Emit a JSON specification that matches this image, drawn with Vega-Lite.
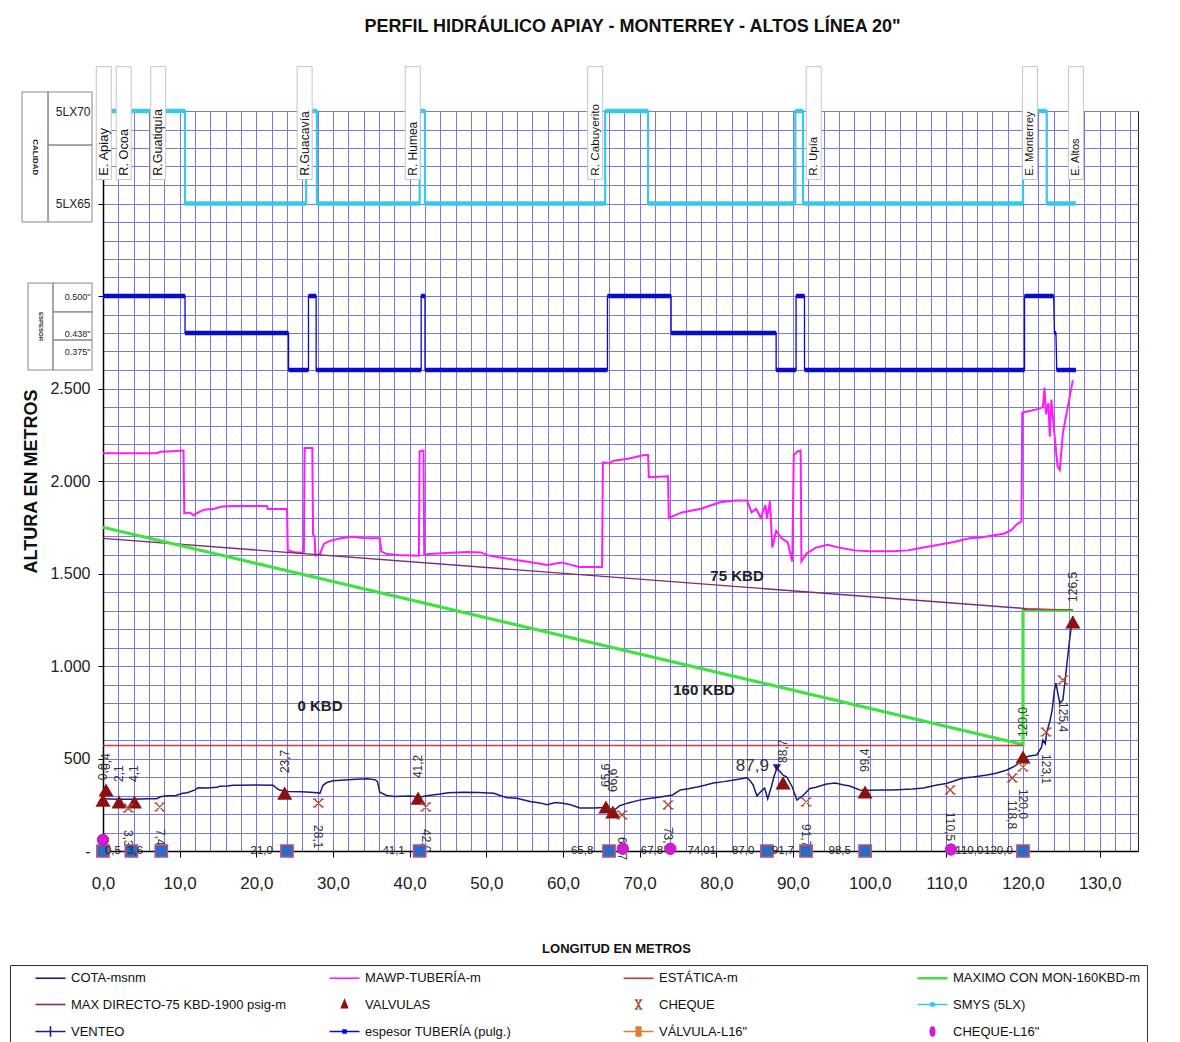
{
"$schema": "https://vega.github.io/schema/vega-lite/v6.json",
"width": 1035,
"height": 740,
"autosize": "none",
"padding": {"left": 103, "top": 111, "right": 42, "bottom": 191},
"background": "white",
"config": {"view": {"stroke": "#222", "strokeWidth": 1}, "font": "Liberation Sans", "text": {"font": "Liberation Sans"}, "axis": {"gridColor": "#7878de", "gridWidth": 1, "gridOpacity": 1}},
"title": {"text": "PERFIL HIDRÁULICO APIAY - MONTERREY - ALTOS LÍNEA 20\"", "font": "Liberation Sans", "fontSize": 18, "fontWeight": "bold", "color": "#111", "frame": "group", "anchor": "middle", "offset": 30, "dx": 12},
"datasets": {
"cota": [{"km":0,"m":282},{"km":2,"m":280},{"km":4,"m":280},{"km":6,"m":282},{"km":7,"m":283},{"km":7.4,"m":292},{"km":8,"m":297},{"km":9.5,"m":300},{"km":10.4,"m":312},{"km":11,"m":315},{"km":12,"m":330},{"km":12.4,"m":342},{"km":13.5,"m":340},{"km":14.9,"m":344},{"km":15.2,"m":350},{"km":16.2,"m":352},{"km":17,"m":355},{"km":18,"m":356},{"km":20,"m":357},{"km":22.2,"m":355},{"km":22.7,"m":338},{"km":23,"m":330},{"km":24,"m":322},{"km":26,"m":320},{"km":28,"m":315},{"km":28.3,"m":312},{"km":28.7,"m":355},{"km":29.2,"m":370},{"km":30,"m":380},{"km":31,"m":383},{"km":33,"m":388},{"km":34.5,"m":390},{"km":35.5,"m":385},{"km":35.8,"m":375},{"km":36.1,"m":318},{"km":37,"m":300},{"km":38,"m":295},{"km":40,"m":297},{"km":41.3,"m":292},{"km":42.5,"m":300},{"km":44,"m":308},{"km":45,"m":315},{"km":47,"m":318},{"km":49,"m":316},{"km":51,"m":312},{"km":51.8,"m":300},{"km":52.7,"m":288},{"km":54,"m":285},{"km":55.7,"m":268},{"km":57,"m":260},{"km":57.9,"m":250},{"km":59,"m":262},{"km":60,"m":258},{"km":61,"m":250},{"km":62.2,"m":233},{"km":64,"m":232},{"km":65.2,"m":235},{"km":65.6,"m":240},{"km":66.5,"m":215},{"km":67.4,"m":245},{"km":68.5,"m":260},{"km":70,"m":275},{"km":71,"m":282},{"km":72.5,"m":290},{"km":74.3,"m":303},{"km":75.3,"m":330},{"km":76.5,"m":338},{"km":77.5,"m":346},{"km":78.5,"m":355},{"km":79.6,"m":368},{"km":81,"m":375},{"km":82.5,"m":385},{"km":84,"m":396},{"km":84.4,"m":380},{"km":84.8,"m":357},{"km":85.3,"m":297},{"km":85.9,"m":325},{"km":86.3,"m":340},{"km":86.7,"m":282},{"km":87.2,"m":350},{"km":87.5,"m":400},{"km":87.9,"m":448},{"km":88.3,"m":430},{"km":88.7,"m":410},{"km":89.2,"m":400},{"km":89.9,"m":346},{"km":90.5,"m":276},{"km":91.3,"m":300},{"km":92.2,"m":338},{"km":93,"m":345},{"km":94.4,"m":362},{"km":95.5,"m":368},{"km":96.5,"m":358},{"km":97.4,"m":351},{"km":98.7,"m":330},{"km":100,"m":328},{"km":101.7,"m":330},{"km":103,"m":330},{"km":105.6,"m":335},{"km":107,"m":340},{"km":108.8,"m":357},{"km":110,"m":365},{"km":111.5,"m":385},{"km":112.2,"m":395},{"km":113.5,"m":400},{"km":115.3,"m":411},{"km":116.5,"m":420},{"km":117.9,"m":438},{"km":118.7,"m":454},{"km":119.3,"m":470},{"km":119.9,"m":503},{"km":121,"m":515},{"km":121.8,"m":519},{"km":122.4,"m":560},{"km":122.6,"m":600},{"km":122.9,"m":580},{"km":123.1,"m":643},{"km":123.5,"m":700},{"km":123.8,"m":762},{"km":124.1,"m":870},{"km":124.3,"m":908},{"km":124.6,"m":840},{"km":124.8,"m":800},{"km":125.2,"m":816},{"km":125.7,"m":1000},{"km":126.1,"m":1150},{"km":126.5,"m":1270}],
"mawp": [{"km":0,"m":2150},{"km":7,"m":2150},{"km":7.5,"m":2158},{"km":8.5,"m":2160},{"km":10.5,"m":2165},{"km":10.6,"m":1825},{"km":11.3,"m":1830},{"km":11.8,"m":1815},{"km":12.5,"m":1832},{"km":13.2,"m":1845},{"km":14.5,"m":1850},{"km":15.5,"m":1862},{"km":17,"m":1865},{"km":21.4,"m":1865},{"km":21.5,"m":1848},{"km":24,"m":1848},{"km":24.1,"m":1625},{"km":25,"m":1615},{"km":26.2,"m":1612},{"km":26.3,"m":2178},{"km":27.3,"m":2178},{"km":27.4,"m":1710},{"km":27.6,"m":1700},{"km":27.7,"m":1598},{"km":28.3,"m":1605},{"km":28.8,"m":1660},{"km":29.5,"m":1675},{"km":31,"m":1690},{"km":32.5,"m":1698},{"km":34,"m":1692},{"km":36.1,"m":1690},{"km":36.3,"m":1620},{"km":37,"m":1605},{"km":38.5,"m":1600},{"km":41.2,"m":1596},{"km":41.3,"m":2160},{"km":41.8,"m":2165},{"km":41.9,"m":1600},{"km":42.5,"m":1605},{"km":44.7,"m":1611},{"km":47.5,"m":1616},{"km":49.3,"m":1614},{"km":50.2,"m":1598},{"km":52,"m":1585},{"km":53.9,"m":1573},{"km":56,"m":1560},{"km":58,"m":1546},{"km":59.8,"m":1560},{"km":62.1,"m":1535},{"km":65.1,"m":1535},{"km":65.2,"m":2100},{"km":66,"m":2095},{"km":66.6,"m":2110},{"km":68.5,"m":2120},{"km":70.6,"m":2140},{"km":71.1,"m":2140},{"km":71.2,"m":2020},{"km":73.7,"m":2025},{"km":73.8,"m":1800},{"km":75.5,"m":1830},{"km":78,"m":1850},{"km":80.5,"m":1885},{"km":82.5,"m":1895},{"km":84,"m":1895},{"km":84.6,"m":1830},{"km":85.2,"m":1850},{"km":85.8,"m":1800},{"km":86.4,"m":1870},{"km":86.6,"m":1800},{"km":87,"m":1890},{"km":87.3,"m":1640},{"km":87.8,"m":1730},{"km":88.5,"m":1690},{"km":89.3,"m":1670},{"km":89.9,"m":1565},{"km":90.1,"m":2140},{"km":90.6,"m":2160},{"km":91,"m":2165},{"km":91.1,"m":1565},{"km":91.8,"m":1610},{"km":93,"m":1640},{"km":94.5,"m":1655},{"km":96,"m":1640},{"km":98,"m":1625},{"km":100,"m":1620},{"km":103,"m":1620},{"km":105,"m":1625},{"km":107,"m":1640},{"km":109,"m":1655},{"km":111,"m":1670},{"km":113,"m":1690},{"km":114.5,"m":1695},{"km":116,"m":1705},{"km":117.5,"m":1715},{"km":118.5,"m":1735},{"km":119.3,"m":1770},{"km":119.8,"m":1780},{"km":119.9,"m":2370},{"km":121,"m":2380},{"km":122,"m":2390},{"km":122.6,"m":2400},{"km":122.8,"m":2505},{"km":123,"m":2360},{"km":123.3,"m":2420},{"km":123.5,"m":2240},{"km":123.7,"m":2440},{"km":124,"m":2300},{"km":124.5,"m":2080},{"km":124.8,"m":2060},{"km":125.2,"m":2260},{"km":126.5,"m":2545}],
"estatica": [{"tramo":1,"km":0,"m":570},{"tramo":1,"km":120,"m":570},{"tramo":2,"km":120,"m":1305},{"tramo":2,"km":126.5,"m":1305}],
"max160": [{"km":0,"m":1750},{"km":120,"m":575},{"km":120,"m":1300},{"km":126.5,"m":1300}],
"max75": [{"km":0,"m":1690},{"km":120.5,"m":1310},{"km":126.5,"m":1302}],
"espesor": [{"tramo":0,"km":0,"m":3000},{"tramo":0,"km":10.7,"m":3000},{"tramo":1,"km":10.7,"m":2800},{"tramo":1,"km":24.2,"m":2800},{"tramo":2,"km":24.2,"m":2600},{"tramo":2,"km":26.8,"m":2600},{"tramo":3,"km":26.8,"m":3000},{"tramo":3,"km":27.8,"m":3000},{"tramo":4,"km":27.8,"m":2600},{"tramo":4,"km":41.5,"m":2600},{"tramo":5,"km":41.5,"m":3000},{"tramo":5,"km":42,"m":3000},{"tramo":6,"km":42,"m":2600},{"tramo":6,"km":65.8,"m":2600},{"tramo":7,"km":65.8,"m":3000},{"tramo":7,"km":74.1,"m":3000},{"tramo":8,"km":74.1,"m":2800},{"tramo":8,"km":87.8,"m":2800},{"tramo":9,"km":87.8,"m":2600},{"tramo":9,"km":90.4,"m":2600},{"tramo":10,"km":90.4,"m":3000},{"tramo":10,"km":91.5,"m":3000},{"tramo":11,"km":91.5,"m":2600},{"tramo":11,"km":120.2,"m":2600},{"tramo":12,"km":120.2,"m":3000},{"tramo":12,"km":124,"m":3000},{"tramo":13,"km":124.1,"m":2800},{"tramo":13,"km":124.3,"m":2800},{"tramo":14,"km":124.4,"m":2600},{"tramo":14,"km":126.9,"m":2600}],
"smys": [{"tramo":0,"km":0,"m":4000},{"tramo":0,"km":10.7,"m":4000},{"tramo":1,"km":10.7,"m":3500},{"tramo":1,"km":26.5,"m":3500},{"tramo":2,"km":26.5,"m":4000},{"tramo":2,"km":27.9,"m":4000},{"tramo":3,"km":27.9,"m":3500},{"tramo":3,"km":41.3,"m":3500},{"tramo":4,"km":41.3,"m":4000},{"tramo":4,"km":42,"m":4000},{"tramo":5,"km":42,"m":3500},{"tramo":5,"km":65.5,"m":3500},{"tramo":6,"km":65.5,"m":4000},{"tramo":6,"km":71.1,"m":4000},{"tramo":7,"km":71.1,"m":3500},{"tramo":7,"km":90.3,"m":3500},{"tramo":8,"km":90.3,"m":4000},{"tramo":8,"km":91.3,"m":4000},{"tramo":9,"km":91.3,"m":3500},{"tramo":9,"km":120,"m":3500},{"tramo":10,"km":120,"m":4000},{"tramo":10,"km":123.1,"m":4000},{"tramo":11,"km":123.1,"m":3500},{"tramo":11,"km":126.9,"m":3500}],
"sitios": [{"nombre":"E. Apiay","km":0.1},{"nombre":"R. Ocoa","km":2.7},{"nombre":"R.Guatiquía","km":7.2},{"nombre":"R.Guacavía","km":26.3},{"nombre":"R. Humea","km":40.4},{"nombre":"R. Cabuyerito","km":64.2},{"nombre":"R. Upía","km":92.7},{"nombre":"E. Monterrey","km":120.9},{"nombre":"E. Altos","km":126.9}],
"valvulas": [{"km":0,"m":275,"etiqueta":"0,0"},{"km":0.4,"m":330,"etiqueta":"0,4"},{"km":2.1,"m":265,"etiqueta":"2,1"},{"km":4.1,"m":265,"etiqueta":"4,1"},{"km":23.7,"m":313,"etiqueta":"23,7"},{"km":41.1,"m":286,"etiqueta":"41,2"},{"km":65.6,"m":238,"etiqueta":"65,6"},{"km":66.5,"m":211,"etiqueta":"66,6"},{"km":88.7,"m":368,"etiqueta":"88,7"},{"km":99.4,"m":319,"etiqueta":"99,4"},{"km":120,"m":508,"etiqueta":"120,0"},{"km":126.5,"m":1238,"etiqueta":"126,5"}],
"cheque": [{"km":3.3,"m":232,"etiqueta":"3,3"},{"km":7.4,"m":238,"etiqueta":"7,4"},{"km":28.1,"m":259,"etiqueta":"28,1"},{"km":42.1,"m":238,"etiqueta":"42,0"},{"km":67.7,"m":195,"etiqueta":"67,7"},{"km":73.7,"m":249,"etiqueta":"73,7"},{"km":91.7,"m":265,"etiqueta":"91,7"},{"km":110.5,"m":330,"etiqueta":"110,5"},{"km":118.6,"m":395,"etiqueta":"118,8"},{"km":120,"m":454,"etiqueta":"120,0"},{"km":123,"m":643,"etiqueta":"123,1"},{"km":125.2,"m":924,"etiqueta":"125,4"}],
"valvula_l16": [{"km":0,"m":0},{"km":3.7,"m":0},{"km":7.6,"m":0},{"km":24,"m":0},{"km":41.3,"m":0},{"km":66,"m":0},{"km":86.6,"m":0},{"km":91.7,"m":0},{"km":99.4,"m":0},{"km":120,"m":0}],
"cheque_l16": [{"km":0,"m":60},{"km":67.8,"m":12},{"km":74,"m":12},{"km":110.6,"m":8}],
"etiquetas_base": [{"km":1.3,"etiqueta":"0,5"},{"km":4.2,"etiqueta":"3,6"},{"km":20.7,"etiqueta":"21,0"},{"km":37.9,"etiqueta":"41,1"},{"km":62.5,"etiqueta":"65,8"},{"km":71.6,"etiqueta":"67,8"},{"km":78.1,"etiqueta":"74,01"},{"km":83.5,"etiqueta":"87,0"},{"km":88.7,"etiqueta":"91,7"},{"km":96.1,"etiqueta":"98,5"},{"km":113.0,"etiqueta":"110,0"},{"km":116.8,"etiqueta":"120,0"}],
"venteo": [{"km":87.9,"m":449,"etiqueta":"87,9"}]
},
"layer": [
{"data": {"name": "mawp"}, "mark": {"type": "line", "strokeWidth": 2},
 "encoding": {
 "x": {"field": "km", "type": "quantitative", "scale": {"domain": [0, 135], "nice": false, "zero": false, "padding": 0},
  "axis": {"title": "LONGITUD EN METROS", "tickCount": 1000, "values": [0,2,4,6,8,10,12,14,16,18,20,22,24,26,28,30,32,34,36,38,40,42,44,46,48,50,52,54,56,58,60,62,64,66,68,70,72,74,76,78,80,82,84,86,88,90,92,94,96,98,100,102,104,106,108,110,112,114,116,118,120,122,124,126,128,130,132,134],
  "grid": true, "domainColor": "#000", "domainWidth": 1.5, "tickColor": "#000", "tickSize": 6,
  "tickOpacity": {"condition": {"test": "datum.value % 10 === 0", "value": 1}, "value": 0},
  "labelExpr": "datum.value % 10 === 0 ? replace(format(datum.value, '.1f'), '.', ',') : ''",
  "labelFont": "Liberation Sans", "labelFontSize": 17, "labelColor": "#222", "labelPadding": 18, "labelFlush": false, "labelOverlap": false,
  "titleFont": "Liberation Sans", "titleFontSize": 13, "titleFontWeight": "bold", "titleColor": "#111", "titleY": 97, "titleX": 513, "titleBaseline": "middle", "titleAlign": "center"}},
 "y": {"field": "m", "type": "quantitative", "scale": {"domain": [0, 4000], "nice": false, "zero": false, "padding": 0},
  "axis": {"title": "ALTURA EN METROS", "tickCount": 1000, "values": [0,100,200,300,400,500,600,700,800,900,1000,1100,1200,1300,1400,1500,1600,1700,1800,1900,2000,2100,2200,2300,2400,2500,2600,2700,2800,2900,3000,3100,3200,3300,3400,3500,3600,3700,3800,3900,4000],
  "grid": true, "domainColor": "#000", "domainWidth": 1.5, "tickColor": "#000", "tickSize": 5,
  "tickOpacity": {"condition": {"test": "datum.value % 500 === 0", "value": 1}, "value": 0},
  "labelExpr": "datum.value === 0 ? '-' : datum.value === 500 ? '500' : datum.value === 1000 ? '1.000' : datum.value === 1500 ? '1.500' : datum.value === 2000 ? '2.000' : datum.value === 2500 ? '2.500' : datum.value === 2700 ? '0.375\"' : datum.value === 2800 ? '0.438\"' : datum.value === 3000 ? '0.500\"' : datum.value === 3500 ? '5LX65' : datum.value === 4000 ? '5LX70' : ''",
  "labelFontSize": {"condition": [{"test": "datum.value >= 3500", "value": 12}, {"test": "datum.value > 2500", "value": 9}], "value": 16},
  "labelFont": "Liberation Sans", "labelColor": "#222", "labelPadding": 8, "labelOverlap": false, "labelFlush": false,
  "titleFont": "Liberation Sans", "titleFontSize": 18, "titleFontWeight": "bold", "titleColor": "#111", "titleX": -72, "titleY": 370, "titleAngle": 270, "titleBaseline": "middle", "titleAlign": "center"}},
 "order": {"value": null},
 "color": {"datum": "MAWP-TUBERÍA-m", "scale": {"domain": ["COTA-msnm", "MAX DIRECTO-75 KBD-1900 psig-m", "VENTEO", "MAWP-TUBERÍA-m", "VALVULAS", "espesor TUBERÍA (pulg.)", "ESTÁTICA-m", "CHEQUE", "VÁLVULA-L16\"", "MAXIMO CON MON-160KBD-m", "SMYS (5LX)", "CHEQUE-L16\""], "range": ["#1c1c78", "#7e2d66", "#1c1c8a", "#ff1aff", "#8b1010", "#0a0acf", "#cc3b3b", "#b5452e", "#e07a2e", "#3fe23f", "#38c8ee", "#d51ad5"]},
 "legend": {"title": null, "orient": "none", "legendX": -93, "legendY": 854, "columns": 4, "gridAlign": "all", "strokeColor": "#333", "padding": 6, "symbolOffset": 28, "symbolSize": 900, "symbolStrokeWidth": 1.5, "labelFont": "Liberation Sans", "labelFontSize": 13, "labelColor": "#111", "labelOffset": 14, "labelLimit": 400, "rowPadding": 10, "columnPadding": 23,
  "encode": {"symbols": {"update": {
   "shape": {"signal": "datum.value === 'VALVULAS' ? 'M0,-0.28L0.2,0.22L-0.2,0.22Z' : datum.value === 'CHEQUE' ? 'M-0.15,-0.3L0.15,0.3M0.15,-0.3L-0.15,0.3M-0.25,-0.3L-0.05,-0.3M0.05,-0.3L0.25,-0.3M-0.25,0.3L-0.05,0.3M0.05,0.3L0.25,0.3' : datum.value === 'SMYS (5LX)' ? 'M-1,0L1,0M-0.1,-0.1L0.1,-0.1L0.1,0.1L-0.1,0.1Z' : datum.value === 'VENTEO' ? 'M-1,0L1,0M0,-0.35L0,0.35' : datum.value === 'espesor TUBERÍA (pulg.)' ? 'M-1,0L1,0M-0.1,-0.1L0.1,-0.1L0.1,0.1L-0.1,0.1Z' : datum.value === 'VÁLVULA-L16\"' ? 'M-1,0L-0.15,0M0.15,0L1,0M-0.15,-0.3L0.15,-0.3L0.15,0.3L-0.15,0.3Z' : datum.value === 'CHEQUE-L16\"' ? 'M0,-0.3A0.15,0.3,0,1,1,0,0.3A0.15,0.3,0,1,1,0,-0.3Z' : 'M-1,0L1,0'"},
   "size": {"value": 900},
   "stroke": {"signal": "scale('color', datum.value)"},
   "fill": {"signal": "datum.value === 'VÁLVULA-L16\"' ? '#2b6cc4' : scale('color', datum.value)"},
   "strokeWidth": {"signal": "datum.value === 'MAXIMO CON MON-160KBD-m' ? 2.5 : 1.6"},
   "opacity": {"value": 1}, "fillOpacity": {"value": 1}, "strokeOpacity": {"value": 1}
  }}}}}}},
{"data": {"values": [{}]}, "mark": {"type": "rect", "filled": false, "stroke": "#888", "strokeWidth": 1}, "encoding": {"x": {"datum": -10.56}, "x2": {"datum": -7.17}, "y": {"datum": 3400}, "y2": {"datum": 4103}}},
{"data": {"values": [{}]}, "mark": {"type": "rect", "filled": false, "stroke": "#888", "strokeWidth": 1}, "encoding": {"x": {"datum": -7.17}, "x2": {"datum": -1.43}, "y": {"datum": 3816}, "y2": {"datum": 4103}}},
{"data": {"values": [{}]}, "mark": {"type": "rect", "filled": false, "stroke": "#888", "strokeWidth": 1}, "encoding": {"x": {"datum": -7.17}, "x2": {"datum": -1.43}, "y": {"datum": 3400}, "y2": {"datum": 3816}}},
{"data": {"values": [{}]}, "mark": {"type": "rect", "filled": false, "stroke": "#888", "strokeWidth": 1}, "encoding": {"x": {"datum": -9.78}, "x2": {"datum": -6.52}, "y": {"datum": 2600}, "y2": {"datum": 3070}}},
{"data": {"values": [{}]}, "mark": {"type": "rect", "filled": false, "stroke": "#888", "strokeWidth": 1}, "encoding": {"x": {"datum": -6.52}, "x2": {"datum": -1.43}, "y": {"datum": 2914}, "y2": {"datum": 3070}}},
{"data": {"values": [{}]}, "mark": {"type": "rect", "filled": false, "stroke": "#888", "strokeWidth": 1}, "encoding": {"x": {"datum": -6.52}, "x2": {"datum": -1.43}, "y": {"datum": 2762}, "y2": {"datum": 2914}}},
{"data": {"values": [{}]}, "mark": {"type": "rect", "filled": false, "stroke": "#888", "strokeWidth": 1}, "encoding": {"x": {"datum": -6.52}, "x2": {"datum": -1.43}, "y": {"datum": 2600}, "y2": {"datum": 2762}}},
{"data": {"values": [{}]}, "mark": {"type": "text", "text": "CALIDAD", "angle": 90, "fontSize": 8, "fontWeight": "bold", "color": "#222", "align": "center", "baseline": "middle"}, "encoding": {"x": {"datum": -8.87}, "y": {"datum": 3750}}},
{"data": {"values": [{}]}, "mark": {"type": "text", "text": "ESPESOR", "angle": 90, "fontSize": 6, "fontWeight": "bold", "color": "#222", "align": "center", "baseline": "middle"}, "encoding": {"x": {"datum": -8.15}, "y": {"datum": 2835}}},
{"data": {"name": "max75"}, "mark": {"type": "line", "strokeWidth": 1.4}, "encoding": {"x": {"field": "km", "type": "quantitative"}, "y": {"field": "m", "type": "quantitative"}, "order": {"value": null}, "color": {"datum": "MAX DIRECTO-75 KBD-1900 psig-m"}}},
{"data": {"name": "max160"}, "mark": {"type": "line", "strokeWidth": 3.2}, "encoding": {"x": {"field": "km", "type": "quantitative"}, "y": {"field": "m", "type": "quantitative"}, "order": {"value": null}, "color": {"datum": "MAXIMO CON MON-160KBD-m"}}},
{"data": {"name": "estatica"}, "mark": {"type": "line", "strokeWidth": 1.4}, "encoding": {"x": {"field": "km", "type": "quantitative"}, "y": {"field": "m", "type": "quantitative"}, "detail": {"field": "tramo"}, "color": {"datum": "ESTÁTICA-m"}}},
{"data": {"name": "cota"}, "mark": {"type": "line", "strokeWidth": 1.5}, "encoding": {"x": {"field": "km", "type": "quantitative"}, "y": {"field": "m", "type": "quantitative"}, "order": {"value": null}, "color": {"datum": "COTA-msnm"}}},
{"data": {"name": "espesor"}, "mark": {"type": "line", "strokeWidth": 1.3}, "encoding": {"x": {"field": "km", "type": "quantitative"}, "y": {"field": "m", "type": "quantitative"}, "order": [{"field": "tramo", "type": "quantitative"}, {"field": "km", "type": "quantitative"}], "color": {"datum": "espesor TUBERÍA (pulg.)"}}},
{"data": {"name": "espesor"}, "mark": {"type": "line", "strokeWidth": 4.5}, "encoding": {"x": {"field": "km", "type": "quantitative"}, "y": {"field": "m", "type": "quantitative"}, "detail": {"field": "tramo"}, "color": {"datum": "espesor TUBERÍA (pulg.)"}}},
{"data": {"name": "smys"}, "mark": {"type": "line", "strokeWidth": 2.2}, "encoding": {"x": {"field": "km", "type": "quantitative"}, "y": {"field": "m", "type": "quantitative"}, "order": [{"field": "tramo", "type": "quantitative"}, {"field": "km", "type": "quantitative"}], "color": {"datum": "SMYS (5LX)"}}},
{"data": {"name": "smys"}, "mark": {"type": "line", "strokeWidth": 4.5}, "encoding": {"x": {"field": "km", "type": "quantitative"}, "y": {"field": "m", "type": "quantitative"}, "detail": {"field": "tramo"}, "color": {"datum": "SMYS (5LX)"}}},
{"data": {"name": "sitios"}, "mark": {"type": "bar", "width": 15, "fill": "white", "stroke": "#c4c4c4", "strokeWidth": 1}, "encoding": {"x": {"field": "km", "type": "quantitative"}, "y": {"datum": 3630}, "y2": {"datum": 4240}}},
{"data": {"name": "sitios"}, "mark": {"type": "text", "angle": 270, "align": "left", "baseline": "middle", "color": "#111"},
 "encoding": {"x": {"field": "km", "type": "quantitative"}, "y": {"datum": 3650}, "text": {"field": "nombre"}, "size": {"field": "nombre", "type": "ordinal", "legend": null, "scale": {"domain": ["E. Apiay", "R. Ocoa", "R.Guatiquía", "R.Guacavía", "R. Humea", "R. Cabuyerito", "R. Upía", "E. Monterrey", "E. Altos"], "range": [13, 11, 9, 13, 14, 10, 11, 13, 11]}}}},
{"data": {"name": "valvulas"}, "mark": {"type": "point", "shape": "triangle-up", "filled": true, "size": 230, "opacity": 1}, "encoding": {"x": {"field": "km", "type": "quantitative"}, "y": {"field": "m", "type": "quantitative"}, "color": {"datum": "VALVULAS"}}},
{"data": {"name": "valvulas"}, "mark": {"type": "text", "angle": 270, "align": "left", "baseline": "middle", "dx": 20, "fontSize": 12, "color": "#333"}, "encoding": {"x": {"field": "km", "type": "quantitative"}, "y": {"field": "m", "type": "quantitative"}, "text": {"field": "etiqueta"}}},
{"data": {"name": "cheque"}, "mark": {"type": "point", "shape": "M-1,-1L1,1M1,-1L-1,1M-1.4,-1L-0.6,-1M0.6,-1L1.4,-1M-1.4,1L-0.6,1M0.6,1L1.4,1", "filled": false, "size": 60, "strokeWidth": 1.3, "opacity": 1}, "encoding": {"x": {"field": "km", "type": "quantitative"}, "y": {"field": "m", "type": "quantitative"}, "color": {"datum": "CHEQUE"}}},
{"data": {"name": "cheque"}, "mark": {"type": "text", "angle": 90, "align": "left", "baseline": "middle", "dx": 22, "fontSize": 12, "color": "#333"}, "encoding": {"x": {"field": "km", "type": "quantitative"}, "y": {"field": "m", "type": "quantitative"}, "text": {"field": "etiqueta"}}},
{"data": {"name": "valvula_l16"}, "mark": {"type": "point", "shape": "square", "filled": true, "size": 150, "fill": "#2b6cc4", "stroke": "#c0507a", "strokeWidth": 1.5, "opacity": 1}, "encoding": {"x": {"field": "km", "type": "quantitative"}, "y": {"field": "m", "type": "quantitative"}}},
{"data": {"name": "cheque_l16"}, "mark": {"type": "point", "shape": "circle", "filled": true, "size": 130, "fill": "#d51ad5", "stroke": "#9b2fa0", "strokeWidth": 1, "opacity": 1}, "encoding": {"x": {"field": "km", "type": "quantitative"}, "y": {"field": "m", "type": "quantitative"}}},
{"data": {"name": "etiquetas_base"}, "mark": {"type": "text", "align": "center", "baseline": "middle", "fontSize": 11.5, "color": "#222"}, "encoding": {"x": {"field": "km", "type": "quantitative"}, "y": {"datum": 0}, "text": {"field": "etiqueta"}}},
{"data": {"name": "venteo"}, "mark": {"type": "point", "shape": "triangle-down", "filled": true, "size": 70, "opacity": 1}, "encoding": {"x": {"field": "km", "type": "quantitative"}, "y": {"field": "m", "type": "quantitative"}, "color": {"datum": "VENTEO"}}},
{"data": {"name": "venteo"}, "mark": {"type": "text", "align": "right", "baseline": "middle", "dx": -8, "dy": -2, "fontSize": 17, "color": "#333"}, "encoding": {"x": {"field": "km", "type": "quantitative"}, "y": {"field": "m", "type": "quantitative"}, "text": {"field": "etiqueta"}}},
{"data": {"values": [{}]}, "mark": {"type": "text", "text": "0 KBD", "fontSize": 15, "fontWeight": "bold", "color": "#222", "align": "center", "baseline": "middle"}, "encoding": {"x": {"datum": 28.3}, "y": {"datum": 784}}},
{"data": {"values": [{}]}, "mark": {"type": "text", "text": "75 KBD", "fontSize": 15, "fontWeight": "bold", "color": "#222", "align": "center", "baseline": "middle"}, "encoding": {"x": {"datum": 82.7}, "y": {"datum": 1486}}},
{"data": {"values": [{}]}, "mark": {"type": "text", "text": "160 KBD", "fontSize": 15, "fontWeight": "bold", "color": "#222", "align": "center", "baseline": "middle"}, "encoding": {"x": {"datum": 78.4}, "y": {"datum": 870}}}
]
}
